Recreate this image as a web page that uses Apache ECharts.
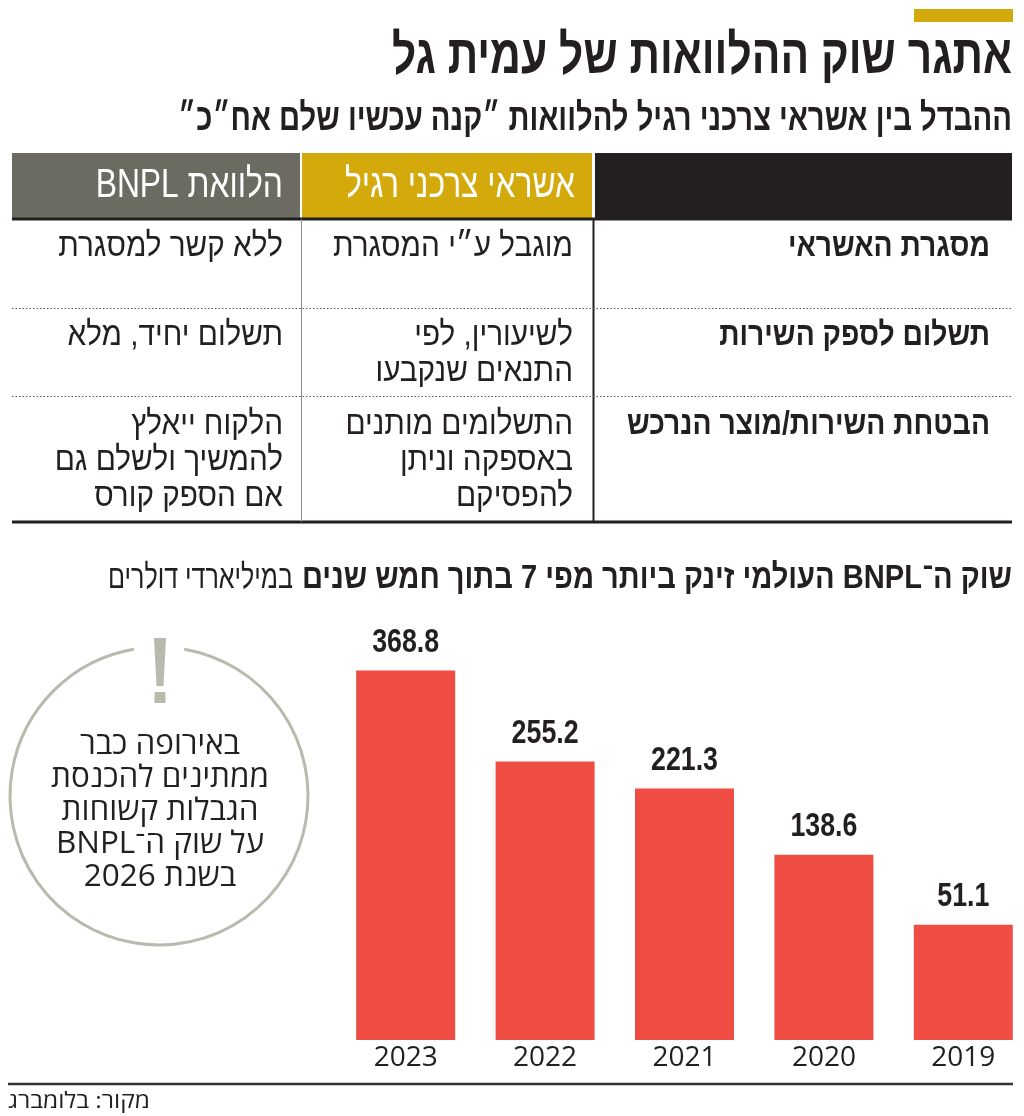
<!DOCTYPE html>
<html><head><meta charset="utf-8">
<script src="https://cdn.jsdelivr.net/npm/echarts@6/dist/echarts.min.js"></script>
<style>html,body{margin:0;padding:0;background:#fff}#c{width:1024px;height:1116px}</style>
</head><body><div id="c" dir="rtl"></div>
<script>
// ---- data ----
const years = ['2019', '2020', '2021', '2022', '2023'];
const marketValues = [51.1, 138.6, 221.3, 255.2, 368.8];
const titleText = 'אתגר שוק ההלוואות של עמית גל';
const subtitleText = 'ההבדל בין אשראי צרכני רגיל להלוואות ״קנה עכשיו שלם אח״כ״';
const colHeaders = ['אשראי צרכני רגיל', 'הלוואת BNPL'];
const rowLabels = ['מסגרת האשראי', 'תשלום לספק השירות', 'הבטחת השירות/מוצר הנרכש'];
const regularCredit = [['מוגבל ע״י המסגרת'], ['לשיעורין, לפי', 'התנאים שנקבעו'], ['התשלומים מותנים', 'באספקה וניתן', 'להפסיקם']];
const bnplLoan = [['ללא קשר למסגרת'], ['תשלום יחיד, מלא'], ['הלקוח ייאלץ', 'להמשיך ולשלם גם', 'אם הספק קורס']];
const chartTitleBold = 'שוק ה־BNPL העולמי זינק ביותר מפי 7 בתוך חמש שנים';
const chartTitleUnit = 'במיליארדי דולרים';
const noteLines = ['באירופה כבר', 'ממתינים להכנסת', 'הגבלות קשוחות', 'על שוק ה־BNPL', 'בשנת 2026'];
const sourceText = 'מקור: בלומברג';

// ---- helpers ----
const SANS = "'Liberation Sans', 'DejaVu Sans', sans-serif";
const OPEN = "'Open Sans', 'DejaVu Sans', sans-serif";
const DARK = '#231f20';
const mctx = document.createElement('canvas').getContext('2d');
function measure(text, size, weight, family) {
  mctx.font = weight + ' ' + size + 'px ' + family;
  return mctx.measureText(text).width;
}
function txt(text, x, y, o) {
  return {
    type: 'text', x: x, y: y, scaleX: o.scale || 1, silent: true,
    style: {
      text: text, fontSize: o.size, fontWeight: o.weight || 'normal', fontFamily: o.family || SANS,
      fill: o.color || DARK, align: o.align || 'right', verticalAlign: 'middle',
      textAlign: o.align || 'right', textVerticalAlign: 'middle'
    }
  };
}
function fitScale(text, size, weight, family, target) { return target / measure(text, size, weight, family); }

const g = [];
// top accent bar
g.push({ type: 'rect', shape: { x: 914, y: 9, width: 99, height: 13 }, style: { fill: '#d4a90c' }, silent: true });
// title & subtitle
g.push(txt(titleText, 1012, 58, { size: 55, weight: 'bold', scale: fitScale(titleText, 55, 'bold', SANS, 620) }));
g.push(txt(subtitleText, 1012, 120, { size: 38, weight: 'bold', scale: fitScale(subtitleText, 38, 'bold', SANS, 834) }));

// table header
g.push({ type: 'rect', shape: { x: 12, y: 153, width: 288, height: 65 }, style: { fill: '#6c6b62' }, silent: true });
g.push({ type: 'rect', shape: { x: 302, y: 153, width: 290, height: 65 }, style: { fill: '#d4a90c' }, silent: true });
g.push({ type: 'rect', shape: { x: 595, y: 153, width: 417, height: 65 }, style: { fill: DARK }, silent: true });
const hScale = fitScale(colHeaders[0], 40, 'normal', SANS, 230);
g.push(txt(colHeaders[0], 575, 186, { size: 40, color: '#fff', scale: hScale }));
g.push(txt(colHeaders[1], 283, 186, { size: 40, color: '#fff', scale: hScale }));

// table lines
g.push({ type: 'line', shape: { x1: 12, y1: 219, x2: 1012, y2: 219 }, style: { stroke: DARK, lineWidth: 3 }, silent: true });
g.push({ type: 'line', shape: { x1: 12, y1: 522, x2: 1012, y2: 522 }, style: { stroke: DARK, lineWidth: 3 }, silent: true });
g.push({ type: 'line', shape: { x1: 301.5, y1: 219, x2: 301.5, y2: 522 }, style: { stroke: '#8a8a8a', lineWidth: 1 }, silent: true });
g.push({ type: 'line', shape: { x1: 593.5, y1: 219, x2: 593.5, y2: 522 }, style: { stroke: DARK, lineWidth: 2 }, silent: true });
[308, 396].forEach(function (y) {
  g.push({ type: 'line', shape: { x1: 12, y1: y + 0.5, x2: 1012, y2: y + 0.5 }, style: { stroke: '#555', lineWidth: 1, lineDash: [1.5, 2] }, silent: true });
});

// table cells
const rowY = [247, 336, 425];
const lineGap = 36;
const bScale = fitScale(rowLabels[2], 33, 'bold', SANS, 363);
const rScale = fitScale(regularCredit[0][0], 33, 'normal', SANS, 240);
rowLabels.forEach(function (lab, i) {
  g.push(txt(lab, 990, rowY[i], { size: 33, weight: 'bold', scale: bScale }));
  regularCredit[i].forEach(function (t, k) { g.push(txt(t, 573, rowY[i] + k * lineGap, { size: 33, scale: rScale })); });
  bnplLoan[i].forEach(function (t, k) { g.push(txt(t, 283, rowY[i] + k * lineGap, { size: 33, scale: rScale })); });
});

// chart title
g.push(txt(chartTitleBold, 1012, 579, { size: 34, weight: 'bold', scale: fitScale(chartTitleBold, 34, 'bold', SANS, 710) }));
g.push(txt(chartTitleUnit, 293, 579, { size: 34, scale: fitScale(chartTitleUnit, 34, 'normal', SANS, 185) }));

// note circle
const cx = 159, cy = 796, r = 149, gap = 0.17;
g.push({ type: 'arc', shape: { cx: cx, cy: cy, r: r, startAngle: -Math.PI / 2 + gap, endAngle: -Math.PI / 2 - gap + 2 * Math.PI, clockwise: true }, style: { stroke: '#b9b9ae', lineWidth: 3, fill: null }, silent: true });
g.push({ type: 'polygon', shape: { points: [[154, 638], [166, 638], [163.5, 686], [156.5, 686]] }, style: { fill: '#b9b9ae' }, silent: true });
g.push({ type: 'rect', shape: { x: 154.5, y: 692, width: 11, height: 11 }, style: { fill: '#b9b9ae' }, silent: true });
const nScale = fitScale(noteLines[1], 31, 'normal', OPEN, 218);
noteLines.forEach(function (t, k) {
  g.push(txt(t, 160, 745 + k * 33, { size: 31, family: OPEN, align: 'center', scale: nScale }));
});

// bottom rule & source
g.push({ type: 'line', shape: { x1: 8, y1: 1084, x2: 1013, y2: 1084 }, style: { stroke: '#333', lineWidth: 2.5 }, silent: true });
g.push(txt(sourceText, 8, 1102, { size: 22, family: OPEN, align: 'left', scale: fitScale(sourceText, 22, 'normal', OPEN, 142) }));

const Y_MIN = -93, Y_MAX = 432;
const labScale = fitScale('368.8', 34, 'bold', SANS, 67);

const chart = echarts.init(document.getElementById('c'), null, { renderer: 'canvas' });
chart.setOption({
  animation: false,
  backgroundColor: '#fff',
  grid: { left: 336, top: 620, width: 697, height: 420, outerBoundsMode: 'none', containLabel: false },
  xAxis: {
    type: 'category', data: years, inverse: true,
    axisLine: { show: false }, axisTick: { show: false }, splitLine: { show: false },
    axisLabel: { fontSize: 28, color: DARK, fontFamily: OPEN, margin: 4 }
  },
  yAxis: { type: 'value', min: Y_MIN, max: Y_MAX, show: false, splitLine: { show: false } },
  series: [{
    type: 'custom',
    data: marketValues.map(function (v, i) { return [i, v]; }),
    encode: { x: 0, y: 1 },
    renderItem: function (params, api) {
      const i = api.value(0), v = api.value(1);
      const top = api.coord([i, v]);
      const base = api.coord([i, Y_MIN]);
      const w = 99;
      return {
        type: 'group', children: [
          { type: 'rect', shape: { x: top[0] - w / 2, y: top[1], width: w, height: base[1] - top[1] }, style: { fill: '#ef4c43' } },
          {
            type: 'text', x: top[0], y: top[1] - 28, scaleX: labScale,
            style: { text: v.toFixed(1), fontSize: 34, fontWeight: 'bold', fontFamily: SANS, fill: DARK, align: 'center', verticalAlign: 'middle', textAlign: 'center', textVerticalAlign: 'middle' }
          }
        ]
      };
    }
  }],
  graphic: { elements: g }
});
</script></body></html>
